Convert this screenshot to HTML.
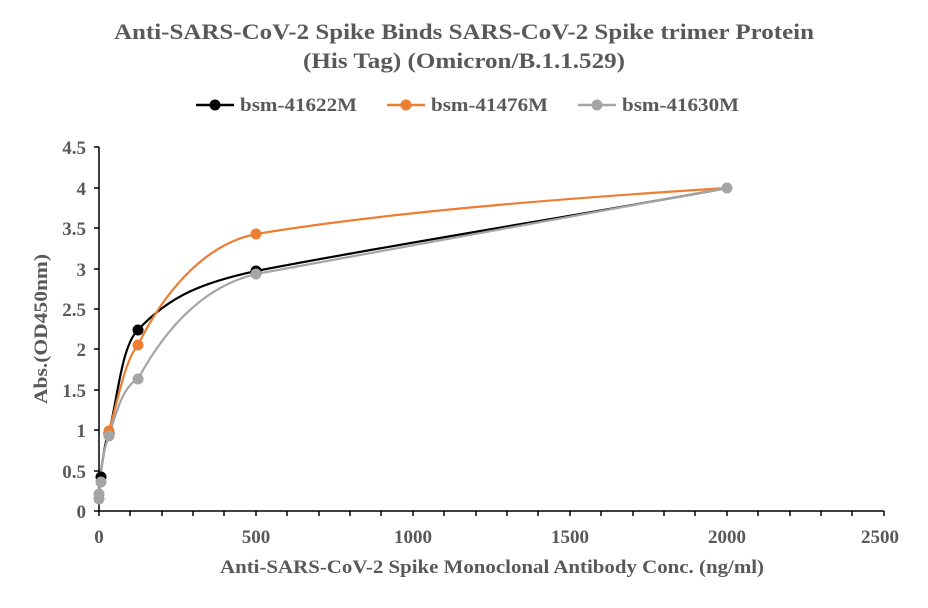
<!DOCTYPE html>
<html><head><style>body{margin:0;background:#fff}</style></head><body>
<svg width="928" height="603" xmlns="http://www.w3.org/2000/svg" font-family="Liberation Serif, serif" font-weight="bold">
<text x="464" y="39" text-anchor="middle" font-size="22" fill="#595959" textLength="700" lengthAdjust="spacingAndGlyphs">Anti-SARS-CoV-2 Spike Binds SARS-CoV-2 Spike trimer Protein</text>
<text x="464" y="68" text-anchor="middle" font-size="22" fill="#595959" textLength="322" lengthAdjust="spacingAndGlyphs">(His Tag) (Omicron/B.1.1.529)</text>
<g font-size="19" fill="#595959">
<line x1="196" y1="105" x2="234" y2="105" stroke="#000" stroke-width="2.5"/><circle cx="215" cy="105" r="5.5" fill="#000"/>
<text x="240" y="111" textLength="117" lengthAdjust="spacingAndGlyphs">bsm-41622M</text>
<line x1="387" y1="105" x2="425" y2="105" stroke="#ED7D31" stroke-width="2.5"/><circle cx="406" cy="105" r="5.5" fill="#ED7D31"/>
<text x="431" y="111" textLength="117" lengthAdjust="spacingAndGlyphs">bsm-41476M</text>
<line x1="578" y1="105" x2="616" y2="105" stroke="#A5A5A5" stroke-width="2.5"/><circle cx="597" cy="105" r="5.5" fill="#A5A5A5"/>
<text x="622" y="111" textLength="117" lengthAdjust="spacingAndGlyphs">bsm-41630M</text>
</g>
<g stroke="#000" stroke-width="1.5">
<line x1="99" y1="147" x2="99" y2="511"/><line x1="99" y1="511" x2="884" y2="511"/>
<line x1="94" y1="147" x2="99" y2="147"/><line x1="94" y1="188" x2="99" y2="188"/><line x1="94" y1="228" x2="99" y2="228"/><line x1="94" y1="269" x2="99" y2="269"/><line x1="94" y1="309" x2="99" y2="309"/><line x1="94" y1="349" x2="99" y2="349"/><line x1="94" y1="390" x2="99" y2="390"/><line x1="94" y1="430" x2="99" y2="430"/><line x1="94" y1="471" x2="99" y2="471"/><line x1="94" y1="511" x2="99" y2="511"/>
<line x1="99" y1="511" x2="99" y2="516"/><line x1="130" y1="511" x2="130" y2="516"/><line x1="162" y1="511" x2="162" y2="516"/><line x1="193" y1="511" x2="193" y2="516"/><line x1="224" y1="511" x2="224" y2="516"/><line x1="256" y1="511" x2="256" y2="516"/><line x1="287" y1="511" x2="287" y2="516"/><line x1="319" y1="511" x2="319" y2="516"/><line x1="350" y1="511" x2="350" y2="516"/><line x1="381" y1="511" x2="381" y2="516"/><line x1="413" y1="511" x2="413" y2="516"/><line x1="444" y1="511" x2="444" y2="516"/><line x1="476" y1="511" x2="476" y2="516"/><line x1="507" y1="511" x2="507" y2="516"/><line x1="538" y1="511" x2="538" y2="516"/><line x1="570" y1="511" x2="570" y2="516"/><line x1="601" y1="511" x2="601" y2="516"/><line x1="633" y1="511" x2="633" y2="516"/><line x1="664" y1="511" x2="664" y2="516"/><line x1="695" y1="511" x2="695" y2="516"/><line x1="727" y1="511" x2="727" y2="516"/><line x1="758" y1="511" x2="758" y2="516"/><line x1="790" y1="511" x2="790" y2="516"/><line x1="821" y1="511" x2="821" y2="516"/><line x1="852" y1="511" x2="852" y2="516"/><line x1="884" y1="511" x2="884" y2="516"/>
</g>
<g font-size="19" fill="#595959" text-anchor="end">
<text x="86" y="154">4.5</text><text x="86" y="195">4</text><text x="86" y="235">3.5</text><text x="86" y="276">3</text><text x="86" y="316">2.5</text><text x="86" y="356">2</text><text x="86" y="397">1.5</text><text x="86" y="437">1</text><text x="86" y="478">0.5</text><text x="86" y="518">0</text>
</g>
<g font-size="19" fill="#595959" text-anchor="middle">
<text x="99" y="543">0</text><text x="256" y="543">500</text><text x="413" y="543">1000</text><text x="570" y="543">1500</text><text x="727" y="543">2000</text><text x="880" y="543">2500</text>
</g>
<text x="492" y="573" text-anchor="middle" font-size="19" fill="#595959" textLength="544" lengthAdjust="spacingAndGlyphs">Anti-SARS-CoV-2 Spike Monoclonal Antibody Conc. (ng/ml)</text>
<text transform="translate(47,329) rotate(-90)" text-anchor="middle" font-size="19" fill="#595959" textLength="150" lengthAdjust="spacingAndGlyphs">Abs.(OD450nm)</text>
<g fill="none" stroke-width="2.2">
<path d="M99,499 L100,477 C103,460 105,440 109,433 C118,395 122,345 138,330 C170,295 205,282 256,271 C400,243 600,212 727,188" stroke="#000"/>
<path d="M109,431 C118,400 125,360 138,345 C160,300 200,245 256,234 C400,210 600,196 727,188" stroke="#ED7D31"/>
<path d="M99,502 L100,482 C102,460 105,445 109,436 C118,405 125,385 138,379 C170,320 210,285 256,274 C400,247 600,212 727,188" stroke="#A5A5A5"/>
</g>
<g>
<circle cx="99" cy="499" r="5.5" fill="#A5A5A5"/><circle cx="99" cy="494" r="5.5" fill="#A5A5A5"/>
<circle cx="101" cy="477" r="5.5" fill="#000"/><circle cx="109" cy="433" r="5.5" fill="#000"/><circle cx="138" cy="330" r="5.5" fill="#000"/><circle cx="256" cy="271" r="5.5" fill="#000"/>
<circle cx="109" cy="431" r="5.5" fill="#ED7D31"/><circle cx="138" cy="345" r="5.5" fill="#ED7D31"/><circle cx="256" cy="234" r="5.5" fill="#ED7D31"/>
<circle cx="101" cy="482" r="5.5" fill="#A5A5A5"/><circle cx="109" cy="436" r="5.5" fill="#A5A5A5"/><circle cx="138" cy="379" r="5.5" fill="#A5A5A5"/><circle cx="256" cy="274" r="5.5" fill="#A5A5A5"/><circle cx="727" cy="188" r="5.5" fill="#A5A5A5"/>
</g>
</svg>
</body></html>
